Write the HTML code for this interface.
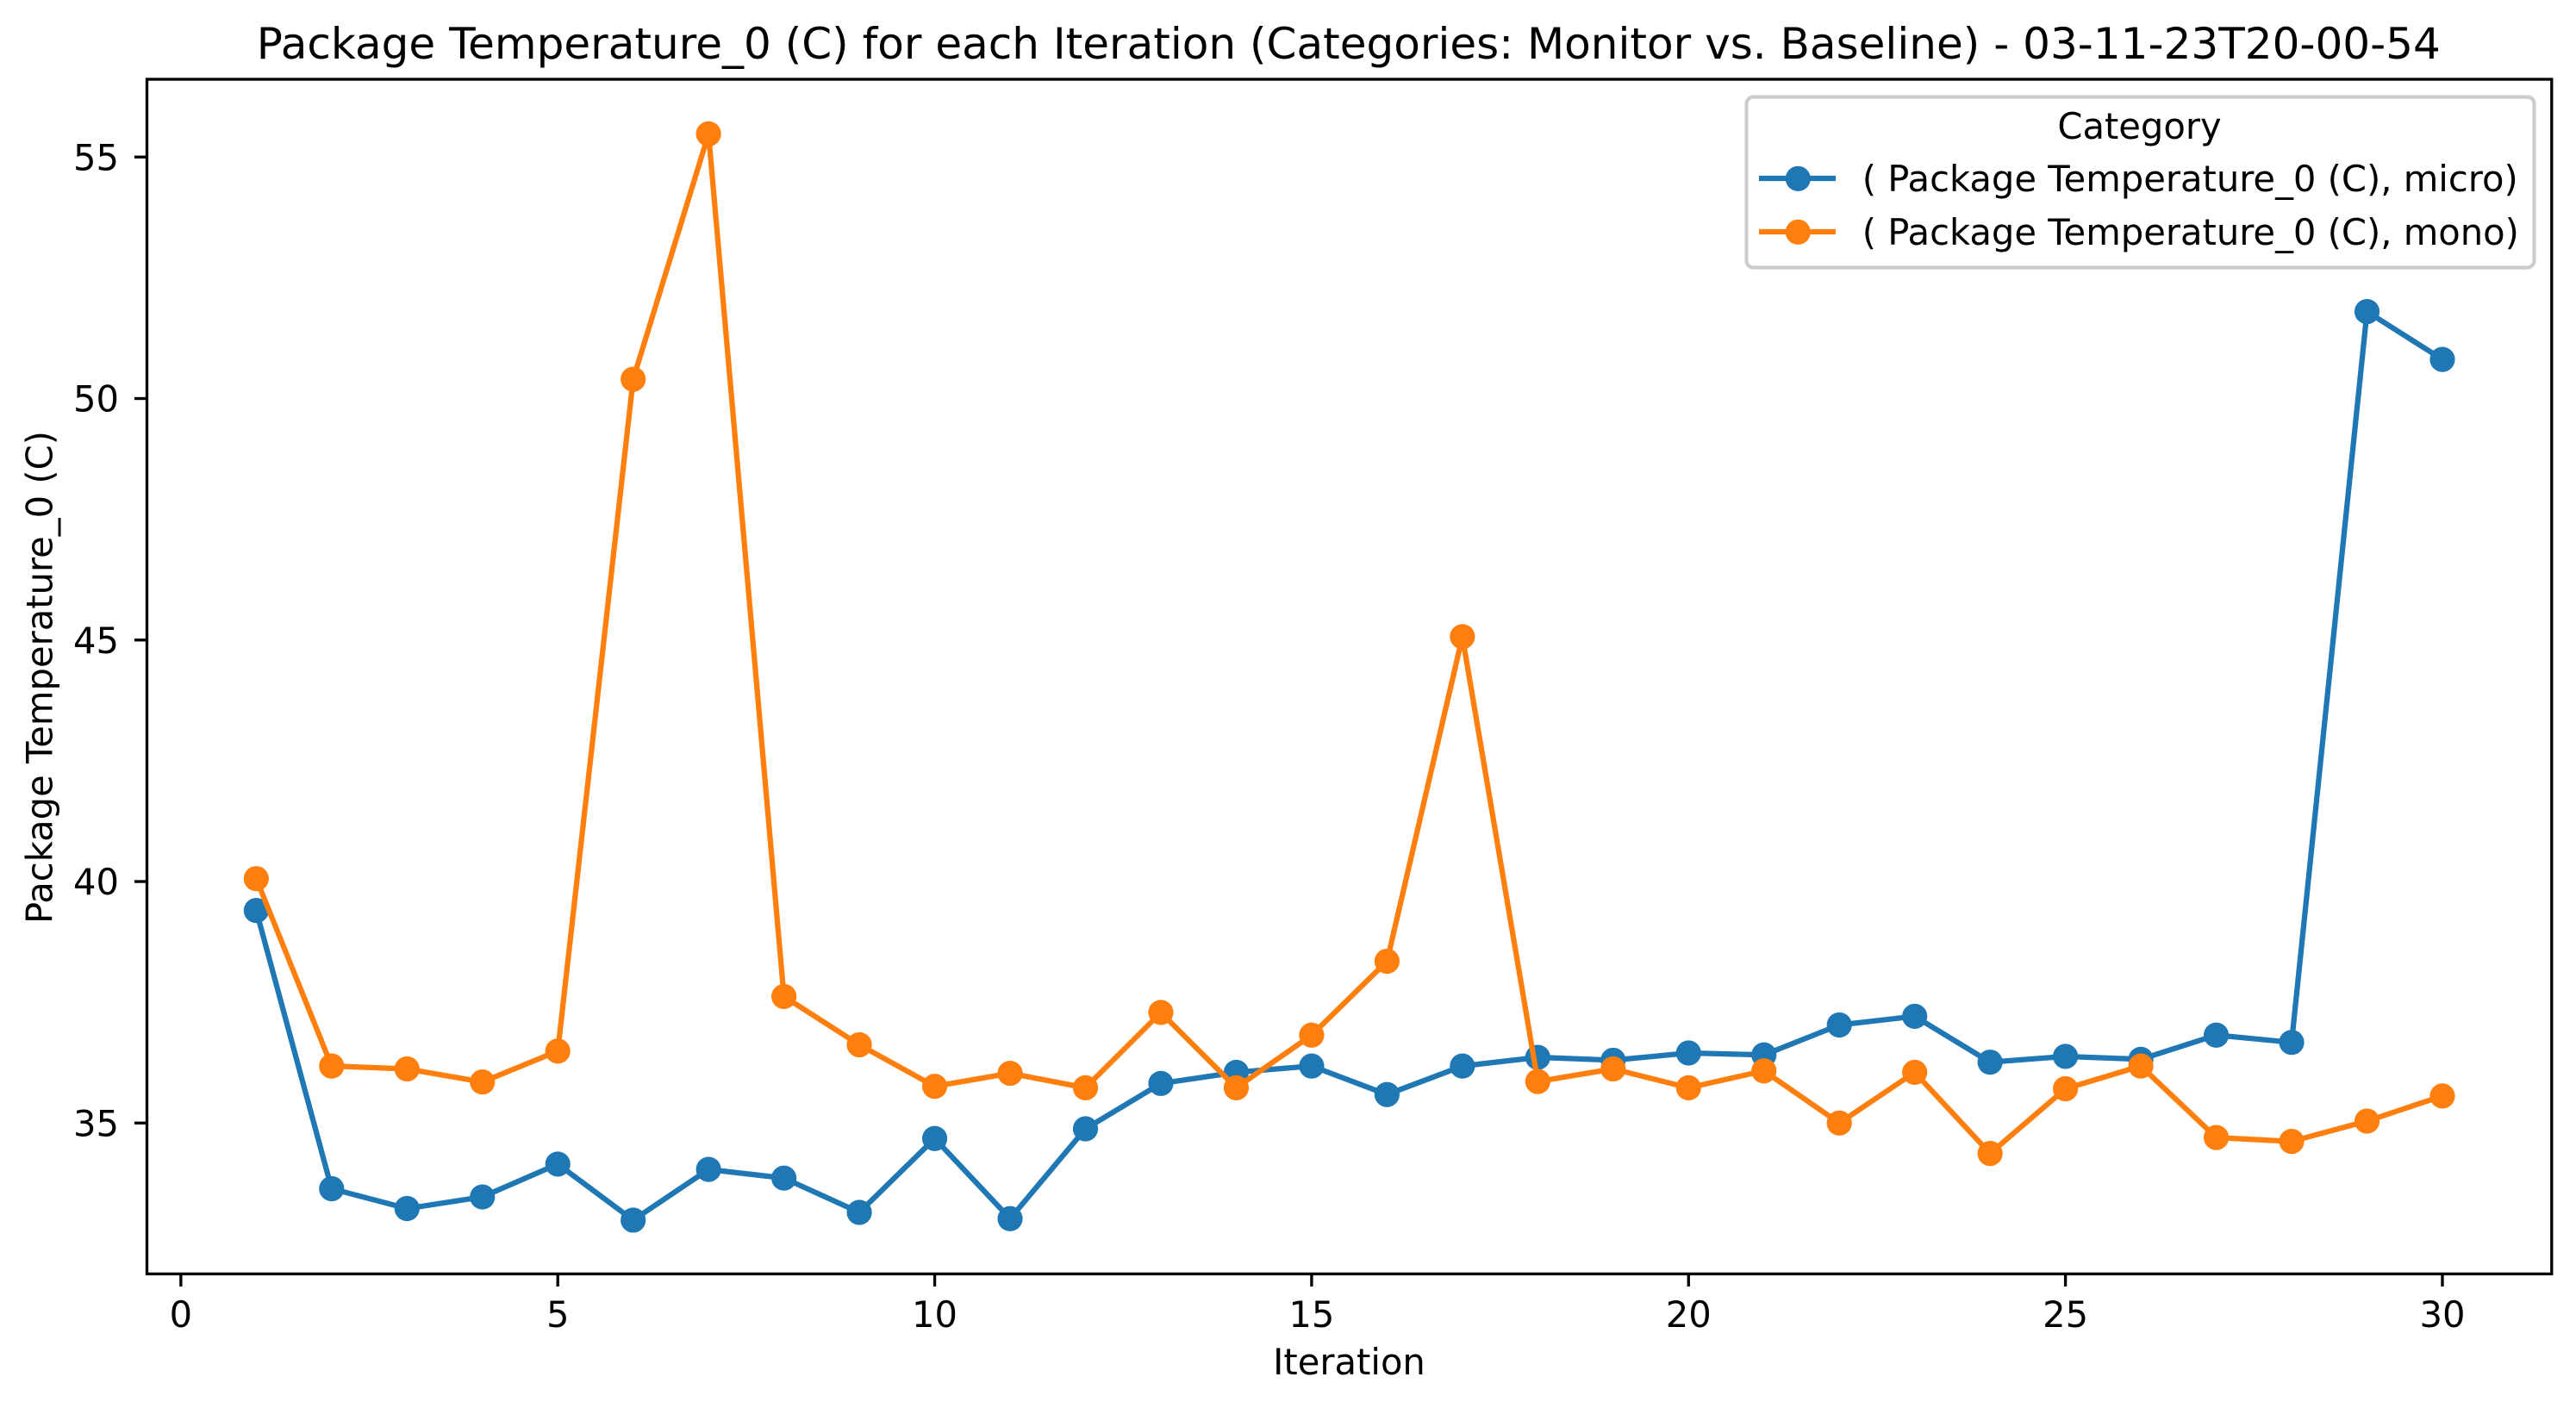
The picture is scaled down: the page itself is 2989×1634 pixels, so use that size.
<!DOCTYPE html>
<html lang="en">
<head>
<meta charset="utf-8">
<title>Package Temperature_0 (C) for each Iteration</title>
<style>
html,body{margin:0;padding:0;background:#fff;width:2989px;height:1634px;overflow:hidden}
svg{display:block}
text{font-family:"DejaVu Sans","Liberation Sans",sans-serif;fill:#000}
</style>
</head>
<body>
<svg id="chart" xmlns="http://www.w3.org/2000/svg" width="2989" height="1634" viewBox="0 0 2989 1634">
  <rect x="0" y="0" width="2989" height="1634" fill="#fff"/>
  <text x="297.8" y="68" font-size="50" textLength="2534" lengthAdjust="spacing">Package Temperature_0 (C) for each Iteration (Categories: Monitor vs. Baseline) - 03-11-23T20-00-54</text>
  <g id="x-ticks"></g>
  <g id="y-ticks"></g>
  <g id="series"></g>
  <rect x="170.5" y="92" width="2790.3" height="1386.4" fill="none" stroke="#000" stroke-width="3.33"/>
  <text x="1565.5" y="1595" font-size="41.67" text-anchor="middle">Iteration</text>
  <text transform="translate(60.5 786) rotate(-90)" font-size="41.67" text-anchor="middle">Package Temperature_0 (C)</text>
  <g>
    <rect x="2026.5" y="112.5" width="914" height="198" rx="8" ry="8" fill="#fff" fill-opacity="0.8" stroke="#ccc" stroke-width="4.17"/>
    <text x="2482.5" y="161" font-size="41.67" text-anchor="middle">Category</text>
    <g>
      <line x1="2041" y1="207" x2="2130" y2="207" stroke="#1f77b4" stroke-width="6.25"/>
      <circle cx="2086.3" cy="207.3" r="14.6" fill="#1f77b4"/>
      <text x="2160.8" y="222" font-size="41.67" xml:space="preserve">( Package Temperature_0 (C), micro)</text>
    </g>
    <g>
      <line x1="2041" y1="269" x2="2130" y2="269" stroke="#ff7f0e" stroke-width="6.25"/>
      <circle cx="2086.3" cy="269.3" r="14.6" fill="#ff7f0e"/>
      <text x="2160.8" y="284" font-size="41.67" xml:space="preserve">( Package Temperature_0 (C), mono)</text>
    </g>
  </g>
</svg>
<script>
const iterations = [1,2,3,4,5,6,7,8,9,10,11,12,13,14,15,16,17,18,19,20,21,22,23,24,25,26,27,28,29,30];
const microValues = [39.40,33.64,33.23,33.47,34.15,32.99,34.04,33.86,33.15,34.68,33.02,34.88,35.82,36.05,36.18,35.59,36.18,36.36,36.30,36.45,36.41,37.03,37.21,36.26,36.38,36.32,36.82,36.67,51.80,50.81];
const monoValues = [40.06,36.18,36.12,35.85,36.49,50.40,55.48,37.62,36.62,35.76,36.03,35.73,37.29,35.73,36.82,38.35,45.07,35.86,36.12,35.73,36.08,35.00,36.05,34.37,35.71,36.18,34.70,34.62,35.04,35.56];
const xTickLabels = [0,5,10,15,20,25,30];
const yTickLabels = [35,40,45,50,55];

const NS = 'http://www.w3.org/2000/svg';
const plotLeft = 170.5, plotRight = 2960.8, plotTop = 92, plotBottom = 1478.4;
const xMin = -0.45, xMax = 31.45, yMin = 31.876, yMax = 56.61;
function xScale(v){ return plotLeft + (v - xMin) / (xMax - xMin) * (plotRight - plotLeft); }
function yScale(v){ return plotBottom - (v - yMin) / (yMax - yMin) * (plotBottom - plotTop); }
function make(tag, attrs){
  const el = document.createElementNS(NS, tag);
  for (const k in attrs) el.setAttribute(k, attrs[k]);
  return el;
}

const xTickGroup = document.getElementById('x-ticks');
xTickLabels.forEach(function(t){
  const mark = make('line', {x1: xScale(t), x2: xScale(t), y1: plotBottom, y2: plotBottom + 14.6, stroke: '#000', 'stroke-width': 3.33});
  
  
  xTickGroup.appendChild(mark);
  const label = make('text', {x: xScale(t), y: 1540, 'font-size': 41.67, 'text-anchor': 'middle'});
  
  
  label.textContent = t;
  xTickGroup.appendChild(label);
});

const yTickGroup = document.getElementById('y-ticks');
yTickLabels.forEach(function(t){
  const mark = make('line', {x1: plotLeft - 14.6, x2: plotLeft, y1: yScale(t), y2: yScale(t), stroke: '#000', 'stroke-width': 3.33});
  
  
  yTickGroup.appendChild(mark);
  const label = make('text', {x: 138, y: yScale(t) + 15.2, 'font-size': 41.67, 'text-anchor': 'end'});
  
  
  label.textContent = t;
  yTickGroup.appendChild(label);
});

const seriesGroup = document.getElementById('series');
function drawSeries(values, color, seriesName){
  const points = values.map(function(v, i){ return xScale(iterations[i]).toFixed(2) + ',' + yScale(v).toFixed(2); }).join(' ');
  const line = make('polyline', {points: points, fill: 'none', stroke: color, 'stroke-width': 6.25, 'stroke-linejoin': 'round', 'stroke-linecap': 'square'});
  
  
  seriesGroup.appendChild(line);
  values.forEach(function(v, i){
    const dot = make('circle', {cx: xScale(iterations[i]), cy: yScale(v), r: 14.6, fill: color});
    
    
    seriesGroup.appendChild(dot);
  });
}
drawSeries(microValues, '#1f77b4', 'micro');
drawSeries(monoValues, '#ff7f0e', 'mono');
</script>
</body>
</html>
